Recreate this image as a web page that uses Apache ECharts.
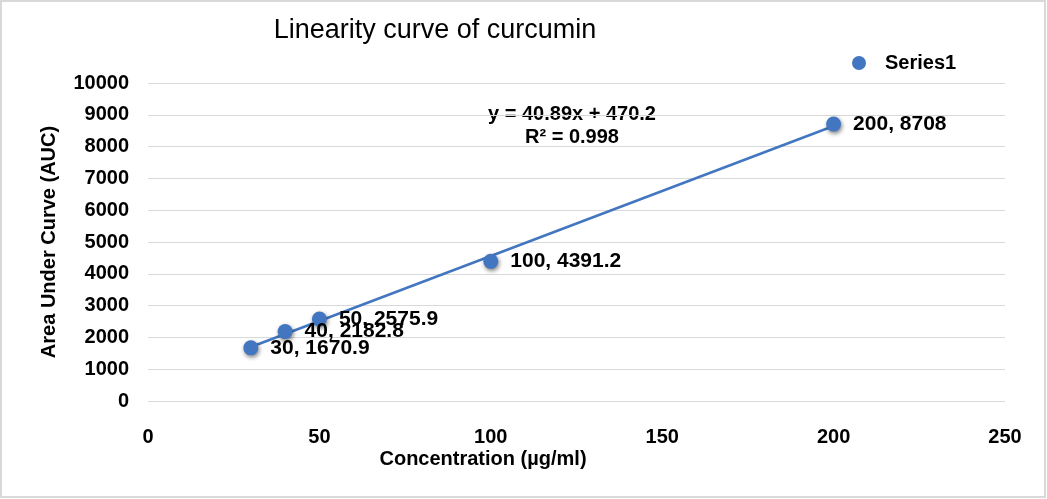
<!DOCTYPE html>
<html><head><meta charset="utf-8">
<script src="https://cdn.jsdelivr.net/npm/echarts@6/dist/echarts.min.js"></script>
<style>html,body{margin:0;padding:0;background:#fff}#c{width:1047px;height:499px}</style>
</head><body><div id="c"></div>
<script>
const concentrations = [30, 40, 50, 100, 200];
const aucValues = [1670.9, 2182.8, 2575.9, 4391.2, 8708];
const trendX = [30, 200];
const trendY = [1697, 8648];
const xTicks = [0, 50, 100, 150, 200, 250];
const yTicks = [0,1000,2000,3000,4000,5000,6000,7000,8000,9000,10000];
const equationText = ['y = 40.89x + 470.2', 'R² = 0.998'];

const font = 'Liberation Sans, Arial, sans-serif';
const blue = '#4276C0';
const chart = echarts.init(document.getElementById('c'));
chart.setOption({
  animation: false,
  title: {text: 'Linearity curve of curcumin', left: 430, top: 12, textAlign: 'center',
    textStyle: {fontFamily: font, fontSize: 27, fontWeight: 'normal', color: '#000'}},
  legend: {left: 847, top: 48, itemWidth: 14, itemHeight: 14,
    data: [{name: 'Series1', icon: 'circle'}],
    textStyle: {fontFamily: font, fontSize: 20, fontWeight: 'bold', color: '#000', padding: [0, 0, 0, 14]}},
  grid: {left: 148, right: 42, top: 83, bottom: 98},
  xAxis: {type: 'value', min: xTicks[0], max: xTicks[xTicks.length-1], interval: 50,
    axisLine: {show: false}, axisTick: {show: false}, splitLine: {show: false},
    axisLabel: {margin: 26, fontFamily: font, fontSize: 20, fontWeight: 'bold', color: '#000'}},
  yAxis: {type: 'value', min: yTicks[0], max: yTicks[yTicks.length-1], interval: 1000,
    axisLine: {show: false}, axisTick: {show: false},
    splitLine: {lineStyle: {color: '#D9D9D9', width: 1}},
    axisLabel: {margin: 19, formatter: v => String(v), fontFamily: font, fontSize: 20, fontWeight: 'bold', color: '#000'}},
  graphic: [
    {type: 'rect', shape: {x: 1, y: 1, width: 1044, height: 496}, style: {fill: 'none', stroke: '#D9D9D9', lineWidth: 2}},
    {type: 'text', x: 49, y: 242, rotation: Math.PI/2, style: {text: 'Area Under Curve (AUC)', textAlign: 'center', textVerticalAlign: 'middle', font: 'bold 20px ' + font, fill: '#000'}},
    {type: 'text', x: 483, y: 459, style: {text: 'Concentration (µg/ml)', textAlign: 'center', textVerticalAlign: 'middle', font: 'bold 20px ' + font, fill: '#000'}},
    {type: 'text', x: 572, y: 114, style: {text: equationText[0], textAlign: 'center', textVerticalAlign: 'middle', font: 'bold 20px ' + font, fill: '#000'}},
    {type: 'text', x: 572, y: 137, style: {text: equationText[1], textAlign: 'center', textVerticalAlign: 'middle', font: 'bold 20px ' + font, fill: '#000'}}
  ],
  series: [
    {name: 'Trend', type: 'line', data: trendX.map((x, i) => [x, trendY[i]]), symbol: 'none',
      lineStyle: {color: blue, width: 2.5}, z: 2, silent: true},
    {name: 'Series1', type: 'scatter', data: concentrations.map((x, i) => [x, aucValues[i]]),
      symbolSize: 15, z: 3,
      itemStyle: {color: blue, opacity: 1, shadowBlur: 4, shadowColor: 'rgba(0,0,0,0.5)', shadowOffsetX: 1, shadowOffsetY: 2},
      label: {show: true, position: 'right', distance: 12, formatter: p => p.value[0] + ', ' + p.value[1],
        fontFamily: font, fontSize: 21, fontWeight: 'bold', color: '#000', textBorderWidth: 0, opacity: 1}}
  ]
});
</script></body></html>
